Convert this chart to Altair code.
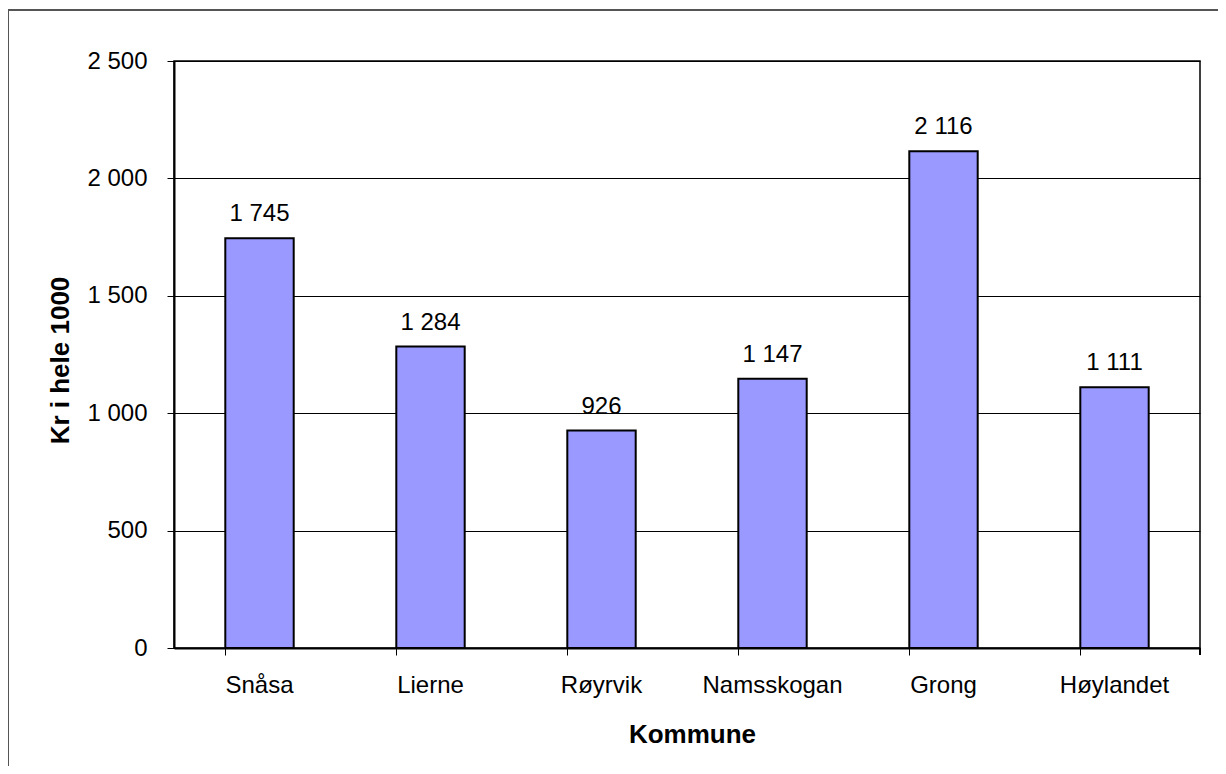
import altair as alt
import pandas as pd

kommuner = ["Snåsa", "Lierne", "Røyrvik", "Namsskogan", "Grong", "Høylandet"]
verdier = [1745, 1284, 926, 1147, 2116, 1111]
y_ticks = [0, 500, 1000, 1500, 2000, 2500]

df = pd.DataFrame({"Kommune": kommuner, "Verdi": verdier})

W, H = 1026, 587
FONT = "Liberation Sans"

x_enc = alt.X(
    "Kommune:N",
    sort=kommuner,
    scale=alt.Scale(paddingInner=0.6, paddingOuter=0.3),
    axis=alt.Axis(
        title="Kommune",
        labelAngle=0,
        bandPosition=0,
        tickSize=7,
        tickColor="black",
        tickWidth=1,
        domainColor="black",
        domainWidth=2,
        labelFont=FONT,
        labelFontSize=24,
        labelColor="black",
        labelPadding=18,
        labelBaseline="top",
        titleFont=FONT,
        titleFontSize=26,
        titleFontWeight="bold",
        titleColor="black",
        titleX=518,
        titleY=94,
        titleBaseline="alphabetic",
        titleAnchor="middle",
        grid=False,
    ),
)

y_enc = alt.Y(
    "Verdi:Q",
    scale=alt.Scale(domain=[0, 2500], nice=False),
    axis=alt.Axis(
        title="Kr i hele 1000",
        values=y_ticks,
        labelExpr="replace(format(datum.value, ','), ',', ' ')",
        tickSize=7,
        tickColor="black",
        tickWidth=1,
        domainColor="black",
        domainWidth=2,
        grid=True,
        gridColor="black",
        gridWidth=1,
        gridOpacity=1,
        labelFont=FONT,
        labelFontSize=24,
        labelColor="black",
        labelPadding=20,
        titleFont=FONT,
        titleFontSize=26,
        titleFontWeight="bold",
        titleColor="black",
        titleAngle=-90,
        titleX=-106,
        titleY=299,
        titleBaseline="alphabetic",
        titleAlign="center",
    ),
)

base = alt.Chart(df)

bars = base.mark_bar(color="#9999FF", stroke="black", strokeWidth=2).encode(
    x=x_enc, y=y_enc
)

labels = base.transform_calculate(
    lbl="replace(format(datum.Verdi, ','), ',', ' ')"
).mark_text(
    font=FONT, fontSize=24, color="black", baseline="alphabetic", dy=-17
).encode(
    x=alt.X("Kommune:N", sort=kommuner),
    y="Verdi:Q",
    text="lbl:N",
)

end_tick = alt.Chart(df).mark_rule(color="black", strokeWidth=1).encode(
    x=alt.value(W), y=alt.value(H), y2=alt.value(H + 7)
)

frame_left = alt.Chart(df).mark_rule(color="#555555", strokeWidth=2).encode(
    x=alt.value(-166), y=alt.value(-51), y2=alt.value(H + 130)
)
frame_top = alt.Chart(df).mark_rule(color="#555555", strokeWidth=2).encode(
    x=alt.value(-166), x2=alt.value(W + 60), y=alt.value(-51)
)

chart = (
    alt.layer(bars, labels, end_tick, frame_left, frame_top)
    .properties(
        width=W,
        height=H,
        autosize=alt.AutoSizeParams(type="none"),
        padding={"left": 166, "top": 53, "right": 18, "bottom": 118},
        background="white",
    )
    .configure_view(stroke="black", strokeWidth=1.5)
)

chart.save("out.html", embed_options={"renderer": "svg", "actions": False})
